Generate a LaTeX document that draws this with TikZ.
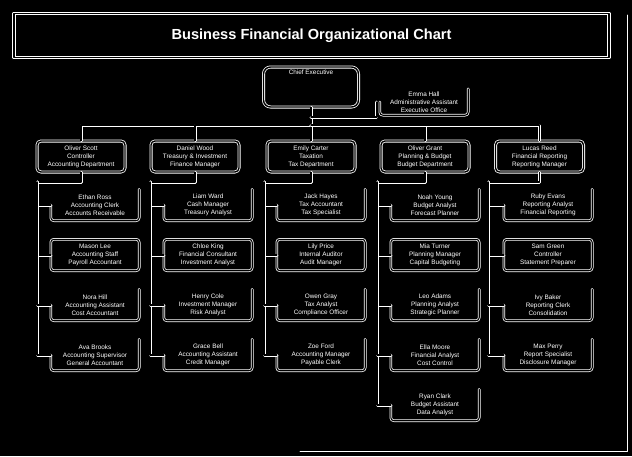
\documentclass[tikz,border=0pt]{standalone}
\usepackage{fontspec}
\setmainfont{Liberation Sans}
\usetikzlibrary{positioning}
\begin{document}
\begin{tikzpicture}[x=1pt,y=-1pt,line cap=round,line join=round,
  wire/.style={draw=white,double=black,double distance=1.4pt,line width=0.8pt},
  rim/.style={draw=white,double=black,double distance=1.1pt,line width=0.75pt,rounded corners=3pt},
  txt/.style={text=white,align=center,font=\fontsize{6.4}{8}\selectfont,inner sep=0pt},
  dept/.style={txt,draw=white,double=black,double distance=1.4pt,line width=0.8pt,rounded corners=4pt,minimum width=88pt,minimum height=31pt},
  unit/.style={txt,minimum width=88pt,minimum height=31pt}]
\useasboundingbox (0,0) rectangle (632,456);
\fill[black] (0,0) rectangle (632,456);
\draw[white,line width=0.8pt] (300,451) -- (627,451) -- (627,15);
\node[draw=white,double=black,double distance=1.6pt,line width=0.8pt,minimum width=595pt,minimum height=44pt,text=white,font=\fontsize{14.6}{16}\selectfont\bfseries] (title) at (311.5,35.5) {Business Financial Organizational Chart};
\node[dept,rounded corners=7pt,minimum width=95pt,minimum height=40pt] (ceo) at (311,87) {};
\node[txt,below=3pt of ceo.north] (ceoname) {Chief Executive};
\node[unit,minimum height=26pt] (asst) at (424,102) {Emma Hall\\Administrative Assistant\\Executive Office};
\draw[rim] (asst.west) -- (asst.south west) -- (asst.south east) -- (asst.north east);
\node[dept] (h1) at (81,156.5) {Oliver Scott\\Controller\\Accounting Department};
\node[dept] (h2) at (195,156.5) {Daniel Wood\\Treasury \& Investment\\Finance Manager};
\node[dept] (h3) at (311,156.5) {Emily Carter\\Taxation\\Tax Department};
\node[dept] (h4) at (425,156.5) {Oliver Grant\\Planning \& Budget\\Budget Department};
\node[dept] (h5) at (539.5,156.5) {Lucas Reed\\Financial Reporting\\Reporting Manager};
\coordinate (hub) at (311,125);
\coordinate (ajoin) at (311,117);
\draw[wire] (ceo.south) -- (hub);
\draw[wire] (ajoin) -| ([xshift=-3pt]asst.west);
\foreach \i in {1,...,5} \draw[wire] (hub) -| (h\i.north);
\foreach \r/\nm/\jb/\dn in {1/Ethan Ross/Accounting Clerk/Accounts Receivable,2/Mason Lee/Accounting Staff/Payroll Accountant,3/Nora Hill/Accounting Assistant/Cost Accountant,4/Ava Brooks/Accounting Supervisor/General Accountant}
  \node[unit] (a\r) at (95,155+50*\r) {\nm\\\jb\\\dn};
\foreach \r/\nm/\jb/\dn in {1/Liam Ward/Cash Manager/Treasury Analyst,2/Chloe King/Financial Consultant/Investment Analyst,3/Henry Cole/Investment Manager/Risk Analyst,4/Grace Bell/Accounting Assistant/Credit Manager}
  \node[unit] (b\r) at (208,155+50*\r) {\nm\\\jb\\\dn};
\foreach \r/\nm/\jb/\dn in {1/Jack Hayes/Tax Accountant/Tax Specialist,2/Lily Price/Internal Auditor/Audit Manager,3/Owen Gray/Tax Analyst/Compliance Officer,4/Zoe Ford/Accounting Manager/Payable Clerk}
  \node[unit] (c\r) at (321,155+50*\r) {\nm\\\jb\\\dn};
\foreach \r/\nm/\jb/\dn in {1/Noah Young/Budget Analyst/Forecast Planner,2/Mia Turner/Planning Manager/Capital Budgeting,3/Leo Adams/Planning Analyst/Strategic Planner,4/Ella Moore/Financial Analyst/Cost Control,5/Ryan Clark/Budget Assistant/Data Analyst}
  \node[unit] (d\r) at (435,155+50*\r) {\nm\\\jb\\\dn};
\foreach \r/\nm/\jb/\dn in {1/Ruby Evans/Reporting Analyst/Financial Reporting,2/Sam Green/Controller/Statement Preparer,3/Ivy Baker/Reporting Clerk/Consolidation,4/Max Perry/Report Specialist/Disclosure Manager}
  \node[unit] (e\r) at (548,155+50*\r) {\nm\\\jb\\\dn};
\foreach \u in {a2,b2,c2,d2,e2} \draw[rim] (\u.north west) rectangle (\u.south east);
\foreach \u in {a1,a3,a4,b1,b3,b4,c1,c3,c4,d1,d3,d4,d5,e1,e3,e4}
  \draw[rim] (\u.west) -- (\u.south west) -- (\u.south east) -- (\u.north east);
\coordinate (ta) at (37,182);
\coordinate (tb) at (150,182);
\coordinate (tc) at (264,182);
\coordinate (td) at (377,182);
\coordinate (te) at (488,182);
\draw[wire] (h1.south) |- (ta) |- (a4.west);
\draw[wire] (h2.south) |- (tb) |- (b4.west);
\draw[wire] (h3.south) |- (tc) |- (c4.west);
\draw[wire] (h4.south) |- (td) |- (d5.west);
\draw[wire] (h5.south) |- (te) |- (e4.west);
\foreach \r in {1,2,3} {
  \draw[wire] (ta) |- (a\r.west);
  \draw[wire] (tb) |- (b\r.west);
  \draw[wire] (tc) |- (c\r.west);
  \draw[wire] (te) |- (e\r.west);
}
\foreach \r in {1,2,3,4} \draw[wire] (td) |- (d\r.west);
\end{tikzpicture}
\end{document}
